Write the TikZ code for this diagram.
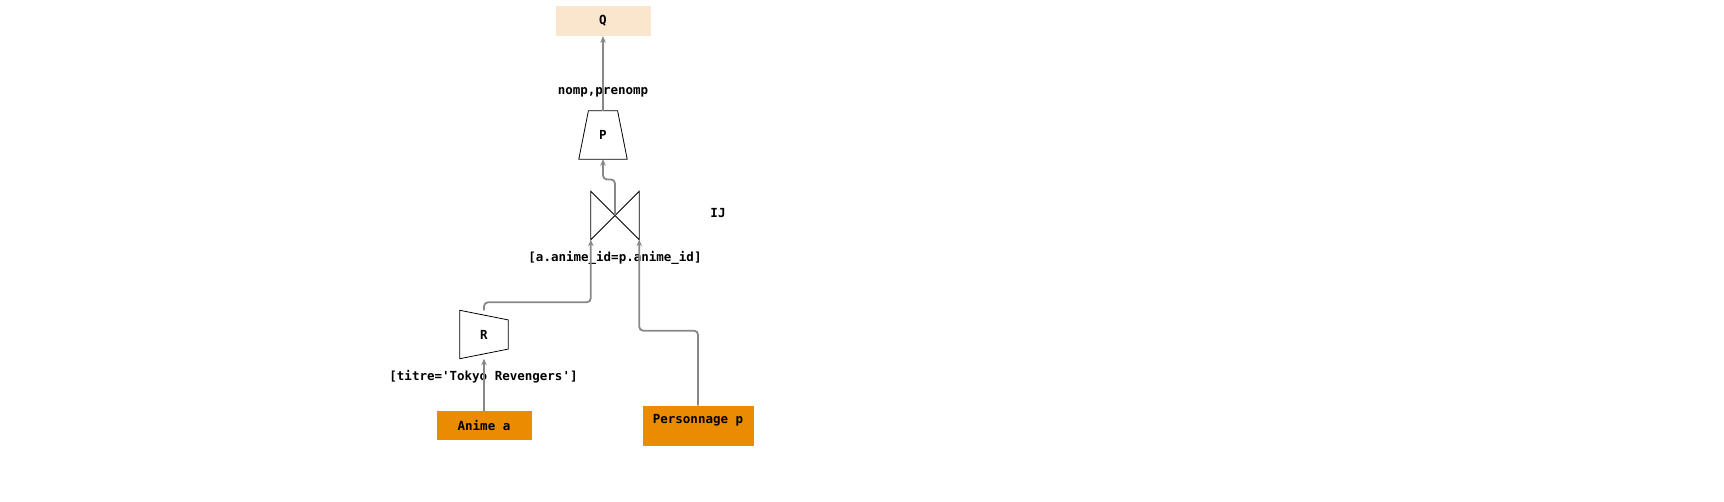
\documentclass[tikz,border=0pt]{standalone}
\usepackage{fontspec}
\newfontfamily\codefont{DejaVu Sans Mono}
\usetikzlibrary{arrows.meta}
\definecolor{relorange}{RGB}{234,139,0}
\definecolor{resultcream}{RGB}{250,230,205}
\definecolor{flowgray}{RGB}{136,136,136}

\begin{document}
\begin{tikzpicture}[x=1pt, y=-1pt,
		every node/.style={font=\codefont\bfseries\fontsize{12.5}{15}\selectfont, inner sep=0pt},
		relbox/.style={rectangle, fill=relorange},
		resbox/.style={rectangle, fill=resultcream, minimum width=95pt, minimum height=30pt},
		opbox/.style={rectangle, minimum width=48pt, minimum height=48pt},
		outline/.style={draw=black, line width=0.8pt},
		flow/.style={draw=flowgray, line width=1.8pt, rounded corners=4pt, -{Stealth[length=6.5pt, width=5.5pt]}}]
		\useasboundingbox (0,0) rectangle (1724,502);

		\node[resbox] (Q) at (603,21) {Q};
		\node[opbox] (P) at (603,135) {P};
		\draw[outline] ([xshift=9.6pt]P.north west) -- ([xshift=-9.6pt]P.north east) -- (P.south east) -- (P.south west) -- cycle;
		\node (projlab) at (603,92) {nomp,prenomp};
		\node[opbox] (IJ) at (615,215.5) {};
		\draw[outline] (IJ.north west) -- (IJ.south east) -- (IJ.north east) -- (IJ.south west) -- cycle;
		\node (ijlab) at (718,213) {IJ};
		\node (condlab) at (615,258) {[a.anime\_id=p.anime\_id]};
		\node[opbox] (R) at (484,334.5) {R};
		\draw[outline] (R.north west) -- ([yshift=-9.6pt]R.north east) -- ([yshift=9.6pt]R.south east) -- (R.south west) -- cycle;
		\node (filterlab) at (483.5,377) {[titre='Tokyo Revengers']};
		\node[relbox, minimum width=95pt, minimum height=29.5pt] (anime) at (484,425.5) {Anime a};
		\node[relbox, anchor=north, minimum width=111pt, text height=10pt, text depth=15pt, inner ysep=7.5pt] (perso) at (698,405.7) {Personnage p};

		\draw[flow] (anime.north) -- (R.south);
		\draw[flow] (R.north) -- ++(0,-8) -| (IJ.south west);
		\draw[flow] (perso.north) -- ++(0,-75) -| (IJ.south east);
		\draw[flow] (IJ.center) -- ++(0,-36) -| (P.south);
		\draw[flow] (P.north) -- (Q.south);
	\end{tikzpicture}
\end{document}
